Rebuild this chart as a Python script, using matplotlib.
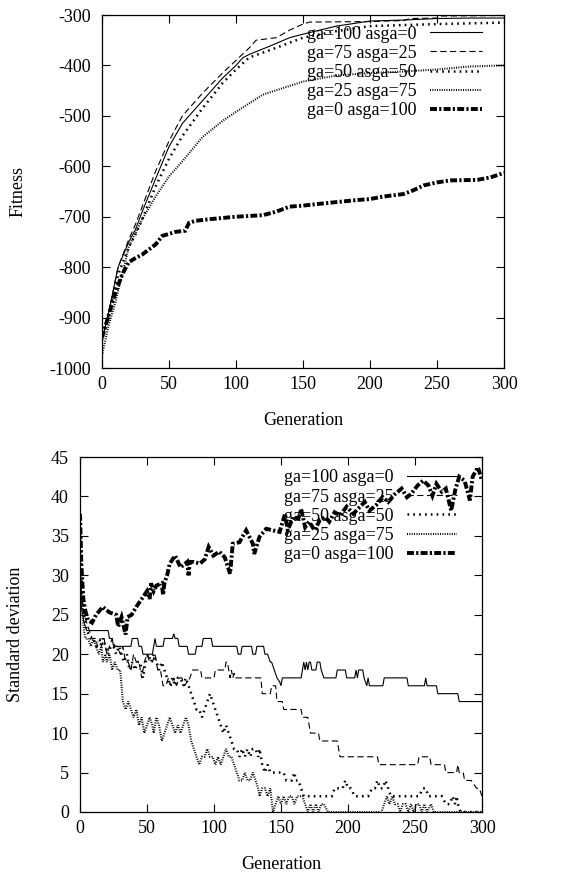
import matplotlib
matplotlib.use("Agg")
import matplotlib.pyplot as plt

plt.rcParams['font.family'] = ['Liberation Serif', 'DejaVu Serif']
plt.rcParams['font.size'] = 13
plt.rcParams['lines.scale_dashes'] = False
plt.rcParams['axes.unicode_minus'] = False

labels = ["ga=100 asga=0", "ga=75 asga=25", "ga=50 asga=50", "ga=25 asga=75", "ga=0 asga=100"]

# ---------------- Fitness (top) ----------------
fit_ga100_x = [0, 5, 12, 20, 25, 30, 40, 50, 60, 75, 90, 100, 105, 110, 125, 140, 150, 175, 200, 225, 250, 275, 300]
fit_ga100_y = [-945, -890, -800, -750, -725, -690, -625, -561, -515, -470, -425, -400, -385, -378, -362, -345, -338, -322, -312, -310, -307, -306, -306]

fit_ga75_x = [0, 5, 12, 20, 25, 30, 40, 50, 60, 75, 90, 100, 110, 115, 130, 140, 150, 155, 200, 225, 230, 250, 252, 300]
fit_ga75_y = [-945, -890, -800, -745, -715, -680, -610, -550, -500, -455, -415, -390, -365, -350, -345, -330, -318, -314, -313, -311, -307, -306, -302, -301]

fit_ga50_x = [0, 5, 12, 20, 25, 30, 40, 50, 60, 75, 90, 100, 110, 125, 150, 175, 200, 250, 300]
fit_ga50_y = [-945, -895, -815, -760, -735, -705, -640, -585, -540, -485, -435, -408, -384, -370, -345, -332, -322, -318, -315]

fit_ga25_x = [0, 5, 10, 20, 30, 40, 50, 60, 75, 90, 100, 110, 120, 135, 150, 175, 200, 225, 250, 275, 300]
fit_ga25_y = [-975, -915, -870, -760, -705, -660, -620, -590, -542, -510, -492, -475, -458, -445, -432, -420, -415, -412, -408, -402, -400]

fit_ga0_x = [0, 5, 10, 15, 20, 25, 30, 35, 40, 45, 55, 62, 65, 70, 80, 100, 120, 130, 140, 150, 160, 175, 190, 200, 210, 225, 232, 240, 250, 260, 280, 290, 300]
fit_ga0_y = [-940, -895, -850, -815, -790, -782, -775, -765, -755, -738, -730, -728, -712, -708, -705, -700, -697, -690, -680, -678, -675, -671, -667, -665, -660, -655, -648, -638, -632, -628, -627, -622, -613]

# ---------------- Standard deviation (bottom) ----------------
sd_ga100_x = [0, 1, 2, 3, 5, 21, 22, 24, 25, 38, 39, 43, 44, 46, 47, 54, 55, 56, 57, 62, 63, 69, 70, 71, 73, 74, 80, 81, 86, 87, 91, 92, 98, 99, 117, 118, 120, 121, 128, 129, 131, 132, 137, 138, 140, 142, 143, 145, 147, 149, 150, 151, 152, 165, 166, 167, 168, 169, 170, 171, 172, 173, 176, 177, 179, 180, 182, 191, 192, 198, 199, 205, 206, 207, 208, 211, 212, 214, 215, 216, 226, 227, 244, 245, 257, 258, 259, 260, 266, 267, 282, 283, 300]
sd_ga100_y = [30, 26, 25, 24, 23, 23, 22, 22, 21, 21, 22, 22, 21, 21, 20, 20, 21, 22, 21, 21, 22, 22, 22.6, 22, 22, 21, 21, 20, 20, 21, 21, 22, 22, 21, 21, 20, 20, 21, 21, 20, 20, 21, 21, 20, 20, 19, 19, 18, 17, 16.5, 16, 17, 17, 17, 18, 19, 18, 19, 18, 19, 19, 18, 18, 19, 19, 18, 17, 17, 18, 18, 17, 17, 18, 17, 18, 18, 17, 16, 17, 16, 16, 17, 17, 16, 16, 17, 16, 16, 16, 15, 15, 14, 14]

sd_ga75_x = [0, 1, 2, 3, 5, 7, 9, 12, 13, 15, 16, 18, 20, 22, 24, 26, 28, 30, 32, 34, 36, 38, 40, 42, 44, 46, 48, 50, 52, 54, 56, 58, 60, 62, 64, 66, 68, 70, 72, 74, 76, 78, 82, 84, 90, 91, 100, 101, 108, 109, 110, 111, 112, 113, 114, 115, 116, 135, 136, 142, 143, 146, 147, 151, 152, 165, 166, 170, 171, 172, 178, 179, 192, 193, 194, 222, 223, 252, 253, 261, 262, 272, 273, 281, 282, 283, 286, 287, 292, 294, 296, 298, 300]
sd_ga75_y = [32, 28, 26, 25, 24, 23, 22, 22, 21, 22, 21, 22, 20, 21, 22, 21, 21, 20, 21, 19, 19, 18, 20, 19, 19, 17, 19, 20, 19, 19, 20, 18, 18, 16, 16, 17, 16, 17, 16, 17, 17, 16, 17, 18, 18, 17, 17, 18, 18, 19, 19, 18, 17, 18, 17, 17.6, 17, 17, 15, 15, 16, 16, 14, 14, 13, 13, 12, 12, 11, 10, 10, 9, 9, 8, 7, 7, 6, 6, 7, 7, 6, 6, 5, 5, 6, 5, 5, 4, 4, 3.5, 3, 3, 2]

sd_ga50_x = [0, 1, 2, 3, 5, 8, 10, 12, 15, 17, 19, 21, 23, 25, 27, 29, 31, 33, 35, 37, 39, 41, 43, 45, 47, 49, 51, 53, 55, 57, 59, 61, 63, 65, 67, 69, 71, 73, 75, 77, 79, 81, 83, 85, 87, 89, 91, 93, 95, 97, 99, 101, 103, 105, 107, 109, 111, 113, 115, 117, 119, 121, 123, 125, 127, 129, 131, 133, 134, 136, 138, 140, 142, 146, 150, 152, 154, 156, 158, 160, 161, 163, 165, 167, 170, 175, 180, 185, 188, 190, 193, 196, 198, 200, 202, 205, 210, 215, 218, 220, 222, 224, 226, 228, 230, 232, 240, 250, 253, 256, 258, 260, 265, 270, 273, 276, 278, 280, 281, 282, 284, 290, 300]
sd_ga50_y = [36, 30, 27, 25, 23, 22, 22, 21, 21, 22, 21, 20, 21, 21, 20, 21, 20, 19, 20, 18, 19, 18, 19, 19, 17, 19, 20, 19, 20, 19, 18, 19, 18, 17, 16, 17, 16, 17, 17, 16, 17, 16, 15, 14, 13, 13, 12, 13, 14, 15, 14, 13, 12, 11, 10, 11, 10, 9, 8, 8, 7, 8, 7, 8, 7, 8, 8, 7, 8, 6, 5, 6, 5, 5, 5, 5, 4, 4, 4, 5, 4, 4, 3, 2, 2, 2, 2, 2, 2, 3, 3, 3, 4, 3, 3, 2, 2, 2, 3, 3, 4, 3, 3, 4, 3, 2, 2, 2, 2, 3, 3, 2, 2, 2, 1, 1, 2, 1, 2, 1, 0, 0, 0]

sd_ga25_x = [0, 1, 2, 3, 4, 6, 8, 10, 12, 14, 16, 17, 19, 20, 22, 24, 26, 28, 30, 31, 32, 34, 36, 38, 40, 42, 44, 46, 48, 50, 52, 54, 55, 57, 59, 61, 63, 65, 67, 69, 71, 73, 75, 77, 79, 81, 83, 85, 87, 89, 91, 93, 95, 97, 99, 101, 103, 105, 107, 109, 111, 113, 115, 117, 119, 121, 123, 125, 127, 129, 131, 133, 134, 136, 138, 140, 142, 144, 146, 148, 150, 152, 154, 156, 158, 160, 162, 164, 166, 168, 170, 172, 174, 176, 178, 180, 182, 185, 190, 200, 225, 227, 229, 231, 233, 235, 237, 239, 241, 243, 245, 247, 249, 251, 253, 255, 257, 259, 262, 264, 266, 270, 280, 290, 300]
sd_ga25_y = [30, 27, 25, 23, 22, 22, 21, 22, 21, 20, 21, 19, 20, 19, 20, 18, 19, 18, 18, 16, 14, 13, 14, 13, 12, 13, 11, 12, 10, 11, 12, 11, 10, 12, 11, 9, 10, 11, 12, 11, 10, 11, 10, 11, 12, 11, 9, 8, 7, 6, 7, 7, 8, 7, 7, 6, 7, 6, 7, 8, 7, 7, 6, 5, 4, 4, 5, 4, 4, 5, 4, 3, 2, 3, 3, 2, 3, 0, 1, 2, 1, 2, 1, 2, 2, 1, 2, 2, 2, 1, 0, 1, 0, 1, 0, 1, 1, 0, 0, 0, 0, 1, 2, 1, 2, 1, 1, 0, 1, 1, 0, 1, 0, 1, 1, 0, 1, 0, 1, 0, 0, 0, 0, 0, 0]

sd_ga0_x = [0, 1, 2.5, 4, 6, 9, 12, 17, 22, 27, 28.5, 31, 34, 35.5, 38.5, 42, 46, 50, 52, 53, 55, 57, 61, 62, 63, 65, 67, 71, 75, 80, 81, 82, 85, 89.5, 93, 96, 99.5, 104, 108, 112, 114, 119, 124, 129, 130, 134, 139, 144, 149, 153, 155, 159, 163, 165, 168, 171, 175, 179, 183, 186, 190, 194, 199, 204, 209, 212.5, 216, 221, 226, 230, 235, 240, 244, 247, 252, 256, 260, 263, 266, 270, 273, 277, 280, 283, 287, 291, 293, 297, 300]
sd_ga0_y = [37.8, 31.5, 27, 25.5, 24.3, 24, 25, 26, 25.3, 25, 23.5, 24.7, 22.5, 24.7, 25, 26, 27, 28, 27, 29, 28, 28.7, 29, 27.5, 29, 30, 31.5, 32.5, 31, 31.7, 30, 31.7, 31.7, 31.5, 32, 33.6, 32.5, 33, 32.3, 30.2, 34, 34.2, 35.7, 34, 32.7, 34.9, 35.9, 35.7, 35.5, 37.8, 35.7, 37.4, 37.2, 38.4, 36.1, 36.8, 35.7, 37, 37.4, 36.8, 38, 37.6, 38.7, 37.8, 38.7, 39.3, 38.2, 38.9, 39.9, 39.3, 40.3, 41, 39.9, 40.3, 41.4, 42, 41.4, 40.1, 41.6, 40.6, 41, 38.2, 40.8, 42.5, 42, 39.5, 42.5, 43.7, 42]

styles = [
    dict(lw=0.8, dashes=None),
    dict(lw=0.8, dashes=(4.5, 2.5)),
    dict(lw=1.8, dashes=(1.2, 3.0)),
    dict(lw=1.5, dashes=(0.7, 1.0)),
    dict(lw=2.8, dashes=(5.0, 1.6, 1.6, 1.6)),
]

fig = plt.figure(figsize=(5.76, 8.74), dpi=100)
ax1 = fig.add_axes([102/576, 1-368/874, 402/576, 353/874])
ax2 = fig.add_axes([80/576, 1-812/874, 402/576, 355/874])

def draw(ax, series):
    for (x, y), lab, st in zip(series, labels, styles):
        line, = ax.plot(x, y, color='black', lw=st['lw'], label=lab,
                        solid_joinstyle='miter', dash_joinstyle='miter')
        if st['dashes'] is not None:
            line.set_dashes(st['dashes'])

draw(ax1, [(fit_ga100_x, fit_ga100_y), (fit_ga75_x, fit_ga75_y), (fit_ga50_x, fit_ga50_y),
           (fit_ga25_x, fit_ga25_y), (fit_ga0_x, fit_ga0_y)])
draw(ax2, [(sd_ga100_x, sd_ga100_y), (sd_ga75_x, sd_ga75_y), (sd_ga50_x, sd_ga50_y),
           (sd_ga25_x, sd_ga25_y), (sd_ga0_x, sd_ga0_y)])

ax1.set_xlim(0, 300)
ax1.set_ylim(-1000, -300)
ax1.set_xticks(range(0, 301, 50))
ax1.set_yticks(range(-1000, -299, 100))
ax2.set_xlim(0, 300)
ax2.set_ylim(0, 45)
ax2.set_xticks(range(0, 301, 50))
ax2.set_yticks(range(0, 46, 5))

for ax in (ax1, ax2):
    ax.tick_params(direction='in', length=6, width=0.8, top=True, right=True)
    ax.tick_params(axis='x', pad=6)
    ax.tick_params(axis='y', pad=8)
    for s in ax.spines.values():
        s.set_linewidth(0.9)
    ax.set_xlabel("Generation")

ax1.set_ylabel("Fitness")
ax2.set_ylabel("Standard deviation")
ax1.yaxis.set_label_coords(-0.189, 0.5)
ax1.xaxis.set_label_coords(0.5, -0.125)
ax2.yaxis.set_label_coords(-0.139, 0.5)
ax2.xaxis.set_label_coords(0.5, -0.125)

leg_kw = dict(frameon=False, markerfirst=False, loc='upper right', borderpad=0,
              handletextpad=0.7, labelspacing=0.12, borderaxespad=0)
ax1.legend(bbox_to_anchor=(0.945, 0.97), handlelength=2.9, **leg_kw)
ax2.legend(bbox_to_anchor=(0.938, 0.965), handlelength=2.8, **leg_kw)

fig.savefig("out.png", dpi=100)
